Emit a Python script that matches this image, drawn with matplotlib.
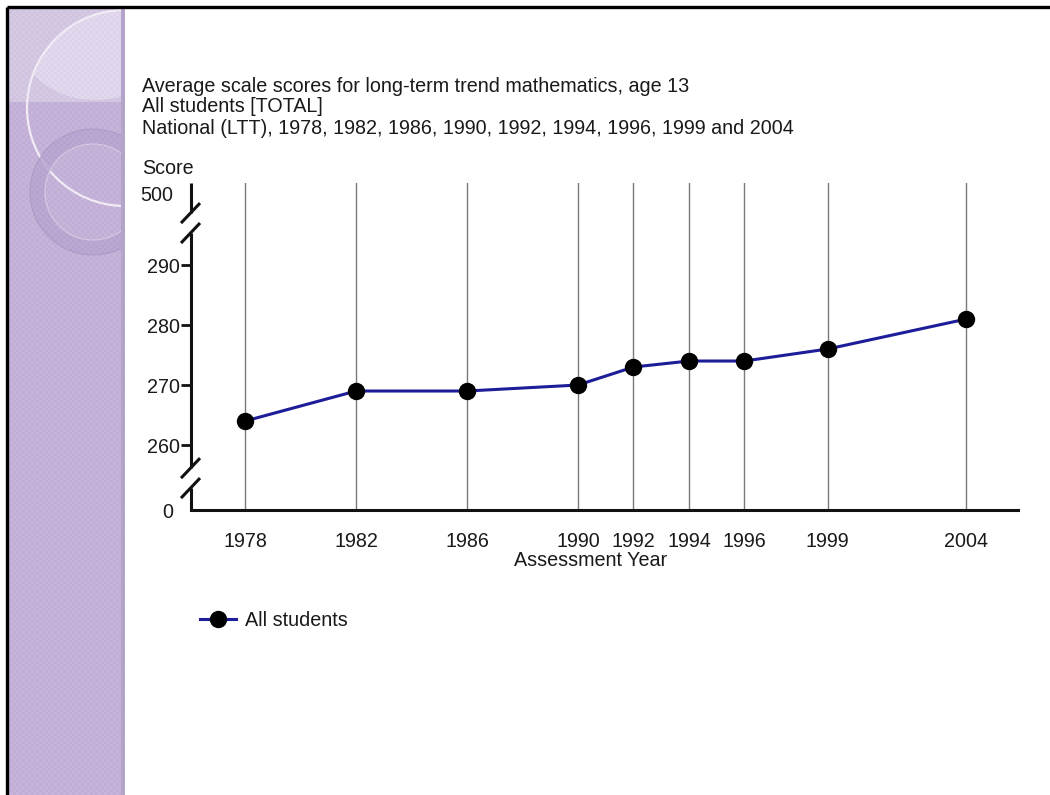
import numpy as np
import matplotlib
matplotlib.use("Agg")
import matplotlib.pyplot as plt
import matplotlib.patches as mpatches

plt.rcParams["font.family"] = ["Liberation Sans", "DejaVu Sans"]

# ---- data -----------------------------------------------------------------
years = [1978, 1982, 1986, 1990, 1992, 1994, 1996, 1999, 2004]
scores = [264, 269, 269, 270, 273, 274, 274, 276, 281]
ytick_values = [0, 260, 270, 280, 290, 500]
ytick_labels = ["0", "260", "270", "280", "290", "500"]
title_lines = [
    "Average scale scores for long-term trend mathematics, age 13",
    "All students [TOTAL]",
    "National (LTT), 1978, 1982, 1986, 1990, 1992, 1994, 1996, 1999 and 2004",
]
series_label = "All students"
x_title = "Assessment Year"
y_title = "Score"

TEXT = "#1a1a1a"
LINE = "#1d1d9a"
FS = 14.2

W, H = 1050, 795
fig = plt.figure(figsize=(W / 100, H / 100), dpi=100)
fig.patch.set_facecolor("white")

# ---- slide decoration (pixel coordinates) ---------------------------------
bg = fig.add_axes([0, 0, 1, 1], zorder=0)
bg.set_xlim(0, W)
bg.set_ylim(H, 0)
bg.axis("off")

panel = mpatches.Rectangle((7, 7), 118, H, facecolor="#c6b3da", edgecolor="none")
bg.add_patch(panel)
upper = mpatches.Rectangle((7, 7), 118, 95, facecolor="#d4c8e4", edgecolor="none")
bg.add_patch(upper)

lens = mpatches.Ellipse((95, 40), 150, 120, facecolor="#e2d9ee", edgecolor="none")
bg.add_patch(lens)
lens.set_clip_path(mpatches.Circle((125, 108), 98, transform=bg.transData))
big = mpatches.Circle((125, 108), 98, facecolor="none", edgecolor="#f3eef8", lw=1.6)
bg.add_patch(big)

ring = mpatches.Wedge((93, 192), 63, 0, 360, width=15, facecolor="#b9a5d0",
                      edgecolor="#ab97c4", lw=0.8, alpha=0.8)
bg.add_patch(ring)
ring_hi = mpatches.Circle((93, 192), 48, facecolor="none", edgecolor="#d6cae6", lw=1.0)
bg.add_patch(ring_hi)

# faint dithered texture on the panel
yy, xx = np.mgrid[0:H // 3, 0:40]
checker = ((xx + yy) % 2).astype(float)
bg.imshow(checker, cmap="gray", extent=(7, 125, H, 7), alpha=0.025,
          interpolation="nearest", aspect="auto", zorder=3)
bg.add_patch(mpatches.Rectangle((121, 7), 4, H, facecolor="#b5a4c9",
                                edgecolor="none", zorder=4))
# white slide area to the right of the panel
bg.add_patch(mpatches.Rectangle((125, 0), W, H, facecolor="white",
                                edgecolor="none", zorder=4.5))

# slide border (top and left only)
bg.plot([7, W], [7, 7], color="black", lw=2.4, solid_capstyle="butt", zorder=5)
bg.plot([7, 7], [7, H], color="black", lw=2.4, solid_capstyle="butt", zorder=5)

# ---- broken y scale --------------------------------------------------------
knot_values = [-1000.0, 0.0, 255.0, 295.0, 500.0, 1000.0]
knot_pos = [226.31, 249.17, 255.0, 295.0, 302.0, 319.07]


def fwd(v):
    return np.interp(v, knot_values, knot_pos)


def inv(p):
    return np.interp(p, knot_pos, knot_values)


# ---- chart -----------------------------------------------------------------
ax = fig.add_axes([191 / W, 1 - 510 / H, 827 / W, 327 / H], zorder=2)
ax.set_facecolor("none")
ax.set_yscale("function", functions=(fwd, inv))
ax.set_ylim(0, 548.9)
ax.set_xlim(1976.05, 2005.86)

ax.set_xticks(years)
ax.set_xticklabels([str(y) for y in years])
ax.set_yticks(ytick_values)
ax.set_yticklabels(ytick_labels)
ax.minorticks_off()

ax.grid(axis="x", color="#7a7a7a", lw=1.0)
ax.set_axisbelow(True)

for s in ("top", "right", "left"):
    ax.spines[s].set_visible(False)
ax.spines["bottom"].set_linewidth(2.2)
ax.spines["bottom"].set_color("#111111")

ax.tick_params(axis="x", length=0, pad=15.5, labelsize=FS, labelcolor=TEXT)
ax.tick_params(axis="y", length=7.2, width=2.0, pad=0.8, labelsize=FS,
               labelcolor=TEXT, color="#111111")
for tk, val in zip(ax.yaxis.get_major_ticks(), ytick_values):
    if val in (0, 500):
        tk.tick1line.set_visible(False)
        tk.set_pad(5.8)

# left axis drawn in pieces with break marks
seg_kw = dict(transform=ax.transAxes, color="#111111", lw=2.2,
              solid_capstyle="butt", clip_on=False)
for y0, y1 in [(1.0, 0.908), (0.847, 0.128), (0.067, 0.0)]:
    ax.plot([0, 0], [y0, y1], **seg_kw)
dx, dy = 0.0115, 0.0306
for cy in (0.908, 0.847, 0.128, 0.067):
    ax.plot([-0.0006 - dx, -0.0006 + dx], [cy - dy, cy + dy], **seg_kw)

ax.plot(years, scores, color=LINE, lw=2.2, marker="o", markersize=11.5,
        markerfacecolor="black", markeredgecolor="black", label=series_label,
        zorder=4)

ax.set_xlabel(x_title, fontsize=FS, color=TEXT, va="center")
ax.xaxis.set_label_coords((591 - 191) / 827, -(561 - 510) / 327)

# ---- texts -----------------------------------------------------------------
for ty, line in zip([86, 107, 129], title_lines):
    fig.text(142 / W, 1 - ty / H, line, fontsize=FS, color=TEXT,
             ha="left", va="center")
fig.text(142 / W, 1 - 169 / H, y_title, fontsize=FS, color=TEXT,
         ha="left", va="center")

fig.legend(loc="center left", bbox_to_anchor=(200 / W, 1 - 620 / H),
           frameon=False, borderpad=0, borderaxespad=0, handlelength=1.85,
           handletextpad=0.45, fontsize=FS, labelcolor=TEXT)

fig.savefig("out.png", dpi=100)
